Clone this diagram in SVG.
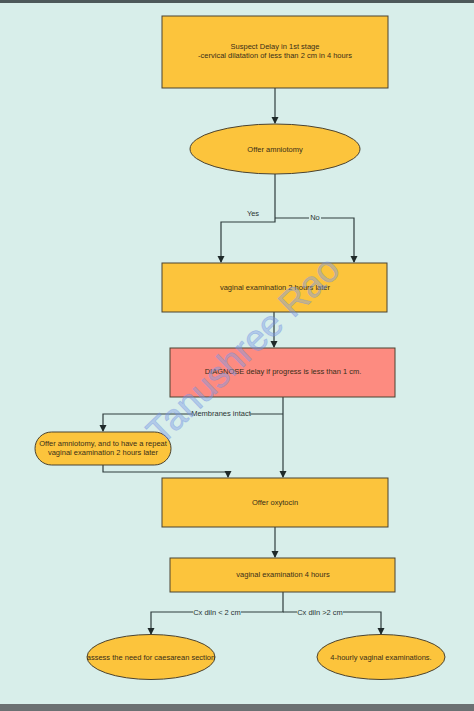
<svg xmlns="http://www.w3.org/2000/svg" width="474" height="711" viewBox="0 0 474 711">
<defs>
<marker id="arr" markerWidth="8" markerHeight="8" refX="6" refY="4" orient="auto" markerUnits="userSpaceOnUse"><path d="M0,0.5 L7,4 L0,7.5 Z" fill="#1f2a2a"/></marker>
</defs>
<style>
.box{fill:#fcc43c;stroke:#4a4230;stroke-width:1}
.pink{fill:#fd8b80;stroke:#4a4230;stroke-width:1}
.t{font-family:"Liberation Sans",Arial,sans-serif;font-size:7.5px;fill:#3a2e18;text-anchor:middle}
.lbl{font-family:"Liberation Sans",Arial,sans-serif;font-size:7.5px;fill:#2a3434;text-anchor:middle}
.c{fill:none;stroke:#2f3d3d;stroke-width:1.2}
</style>
<rect x="0" y="0" width="474" height="711" fill="#d8eeea"/>
<rect x="0" y="0" width="474" height="3" fill="#4d585a"/>
<rect x="0" y="704" width="474" height="7" fill="#6b7072"/>
<g id="connectors">
<path class="c" d="M275,88 V123" marker-end="url(#arr)"/>
<path class="c" d="M275,174 V222 H221 V262" marker-end="url(#arr)"/>
<path class="c" d="M275,218 H354 V262" marker-end="url(#arr)"/>
<path class="c" d="M274,312 V347" marker-end="url(#arr)"/>
<path class="c" d="M283,397 V477" marker-end="url(#arr)"/>
<path class="c" d="M283,414 H103 V431" marker-end="url(#arr)"/>
<path class="c" d="M103,465 V472 H228 V477" marker-end="url(#arr)"/>
<path class="c" d="M275,527 V557" marker-end="url(#arr)"/>
<path class="c" d="M283,592 V612 H151 V634" marker-end="url(#arr)"/>
<path class="c" d="M283,612 H381 V634" marker-end="url(#arr)"/>
<rect x="244" y="209" width="18" height="9" fill="#d8eeea"/>
<text class="lbl" x="253" y="216">Yes</text>
<rect x="309" y="213" width="12" height="9" fill="#d8eeea"/>
<text class="lbl" x="315" y="220">No</text>
<rect x="192" y="409" width="58" height="9" fill="#d8eeea"/>
<text class="lbl" x="221" y="416">Membranes intact</text>
<rect x="193" y="607" width="48" height="9" fill="#d8eeea"/>
<text class="lbl" x="217" y="614.5">Cx diln &lt; 2 cm</text>
<rect x="297" y="607" width="46" height="9" fill="#d8eeea"/>
<text class="lbl" x="320" y="614.5">Cx diln &gt;2 cm</text>
</g>
<g id="n1">
<rect class="box" x="162" y="16" width="226" height="72"/>
<text class="t" x="275" y="49">Suspect Delay in 1st stage</text>
<text class="t" x="275" y="58">-cervical dilatation of less than 2 cm in 4 hours</text>
</g>
<g id="n2">
<ellipse class="box" cx="275" cy="149" rx="85" ry="25"/>
<text class="t" x="275" y="151.5">Offer amniotomy</text>
</g>
<g id="n3">
<rect class="box" x="162" y="263" width="225" height="49"/>
<text class="t" x="275" y="290">vaginal examination 2 hours later</text>
</g>
<g id="n4">
<rect class="pink" x="170" y="348" width="225" height="49"/>
<text class="t" x="283" y="374">DIAGNOSE delay if progress is less than 1 cm.</text>
</g>
<g id="n5">
<rect class="box" x="35" y="432" width="136" height="33" rx="16.5" ry="16.5"/>
<text class="t" x="103" y="446">Offer amniotomy, and to have a repeat</text>
<text class="t" x="103" y="455">vaginal examination 2 hours later</text>
</g>
<g id="n6">
<rect class="box" x="162" y="478" width="226" height="49"/>
<text class="t" x="275" y="505">Offer oxytocin</text>
</g>
<g id="n7">
<rect class="box" x="170" y="558" width="225" height="34"/>
<text class="t" x="283" y="577">vaginal examination 4 hours</text>
</g>
<g id="n8">
<ellipse class="box" cx="151" cy="657" rx="64" ry="22.5"/>
<text class="t" x="151" y="660">assess the need for caesarean section</text>
</g>
<g id="n9">
<ellipse class="box" cx="381" cy="657" rx="64" ry="22.5"/>
<text class="t" x="381" y="660">4-hourly vaginal examinations.</text>
</g>
<text x="0" y="0" transform="translate(245,352) rotate(-44)" font-family="'Liberation Sans',Arial,sans-serif" font-size="37" fill="#7f9de6" fill-opacity="0.45" stroke="#6a8ade" stroke-opacity="0.35" stroke-width="0.8" text-anchor="middle" dominant-baseline="middle">Tanushree Rao</text>
</svg>
